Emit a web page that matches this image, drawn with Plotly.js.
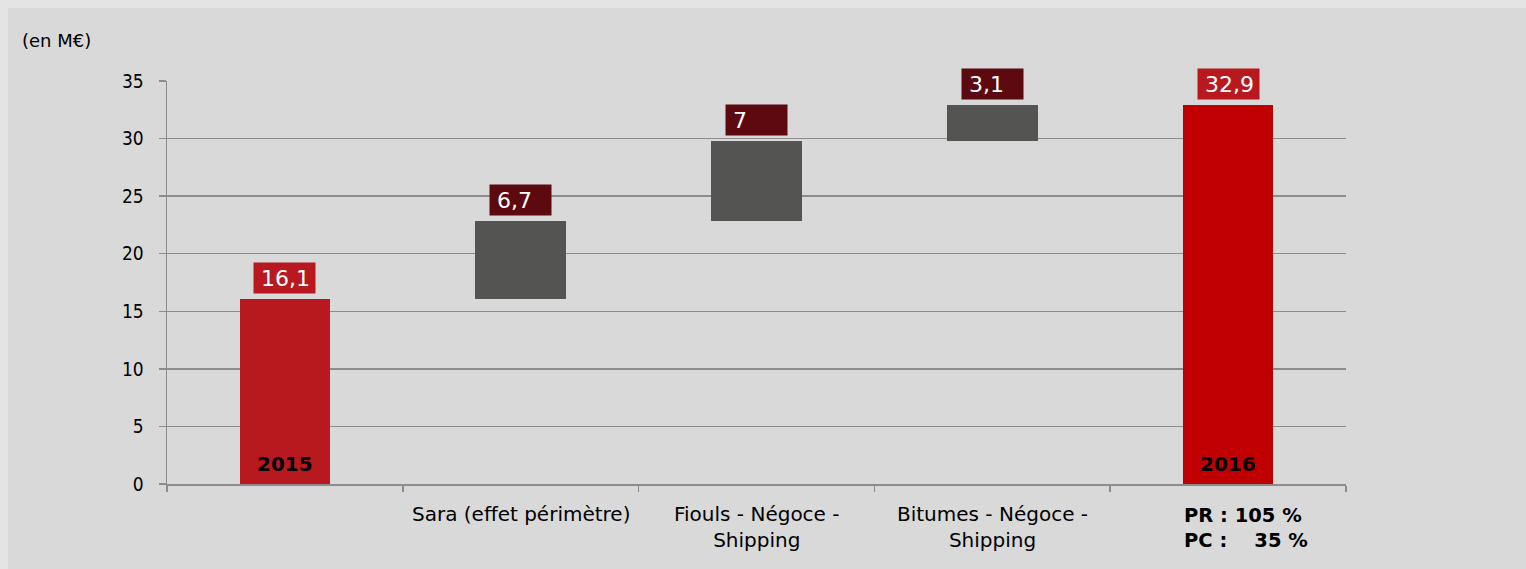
<!DOCTYPE html>
<html><head><meta charset="utf-8">
<script src="https://cdn.plot.ly/plotly-3.0.1.min.js"></script>
<style>html,body{margin:0;padding:0;background:#d9d9d9}</style>
</head><body><div id="chart" style="width:1526px;height:569px"></div>
<script>
const categories = ["2015", "Sara", "Fiouls", "Bitumes", "2016"];
const tickLabels = ["", "Sara (effet périmètre)", "Fiouls - Négoce -<br>Shipping", "Bitumes - Négoce -<br>Shipping", ""];
const bases = [0, 16.1, 22.8, 29.8, 0];
const deltas = [16.1, 6.7, 7, 3.1, 32.9];
const valueLabels = ["16,1", "6,7", "7", "3,1", "32,9"];
const innerLabels = ["2015", "", "", "", "2016"];
const barColors = ["#b8191f", "#545452", "#545452", "#545452", "#c00000"];
const labelBg = ["#b8191f", "#5c0a10", "#5c0a10", "#5c0a10", "#b8191f"];
const footText = "PR : 105 %<br>PC :\u00a0\u00a0\u00a0 35 %";

const xpos = categories.map((c, i) => i);
const boundaries = categories.map((c, i) => i - 0.5).concat([categories.length - 0.5]);

const trace = {
  type: "bar", x: xpos, y: deltas, base: bases,
  marker: {color: barColors}, width: 0.385, hoverinfo: "none"
};

const annotations = [];
xpos.forEach((xp, i) => {
  annotations.push({
    x: xp, y: bases[i] + deltas[i], xref: "x", yref: "y",
    yanchor: "bottom", yshift: 5, showarrow: false,
    text: "\u00a0" + valueLabels[i], bgcolor: labelBg[i], width: 61, height: 30,
    align: "left", borderpad: 0,
    font: {family: "DejaVu Sans", size: 22, color: "#ffffff"}
  });
  if (innerLabels[i]) annotations.push({
    x: xp, y: 0, xref: "x", yref: "y", yanchor: "bottom", yshift: 6,
    showarrow: false, text: "<b>" + innerLabels[i] + "</b>",
    font: {family: "DejaVu Sans", size: 20, color: "#000000"}
  });
  if (tickLabels[i]) annotations.push({
    x: xp, y: 0, xref: "x", yref: "y", yanchor: "top", yshift: -16,
    showarrow: false, align: "center", text: tickLabels[i],
    font: {family: "DejaVu Sans", size: 20, color: "#000000"}
  });
});
annotations.push({
  x: -0.1247, y: 1.10, xref: "paper", yref: "paper", xanchor: "left", yanchor: "middle",
  showarrow: false, text: "(en M€)",
  font: {family: "DejaVu Sans", size: 18, color: "#000000"}
});
annotations.push({
  x: 4, y: 0, xref: "x", yref: "y", xanchor: "left", yanchor: "top",
  xshift: -46, yshift: -18, showarrow: false, align: "left",
  text: "<b>" + footText + "</b>",
  font: {family: "DejaVu Sans", size: 19.5, color: "#000000"}
});

const layout = {
  width: 1526, height: 569,
  margin: {l: 167, r: 180, t: 81, b: 85},
  paper_bgcolor: "#d9d9d9", plot_bgcolor: "#d9d9d9",
  showlegend: false, bargap: 0,
  font: {family: "DejaVu Sans", size: 17, color: "#000000"},
  xaxis: {
    range: [-0.5, categories.length - 0.5], tickmode: "array", tickvals: boundaries,
    ticktext: boundaries.map(() => ""),
    ticks: "outside", ticklen: 6, tickcolor: "#8c8c8c", tickwidth: 1.5,
    showline: true, linecolor: "#8c8c8c", linewidth: 1.5, showgrid: false, zeroline: false,
    fixedrange: true
  },
  yaxis: {
    range: [0, 35], tickmode: "array", tickvals: [0,5,10,15,20,25,30,35],
    ticks: "outside", ticklen: 7, tickcolor: "#8c8c8c", tickwidth: 1.5,
    showline: true, linecolor: "#8c8c8c", linewidth: 1.5,
    showgrid: true, gridcolor: "#8c8c8c", gridwidth: 1.5, zeroline: false,
    tickfont: {family: "DejaVu Sans Condensed, DejaVu Sans", size: 19, color: "#000000"},
    ticklabelstandoff: 11, fixedrange: true
  },
  shapes: [
    {type: "rect", xref: "paper", yref: "paper", x0: -0.15, x1: 1.16, y0: 1.181, y1: 1.21,
     fillcolor: "#e4e4e4", line: {width: 0}, layer: "above"},
    {type: "rect", xref: "paper", yref: "paper", x0: -0.15, x1: -0.1348, y0: -0.22, y1: 1.21,
     fillcolor: "#e4e4e4", line: {width: 0}, layer: "above"}
  ],
  annotations: annotations
};
Plotly.newPlot("chart", [trace], layout, {displayModeBar: false, staticPlot: true});
</script></body></html>
